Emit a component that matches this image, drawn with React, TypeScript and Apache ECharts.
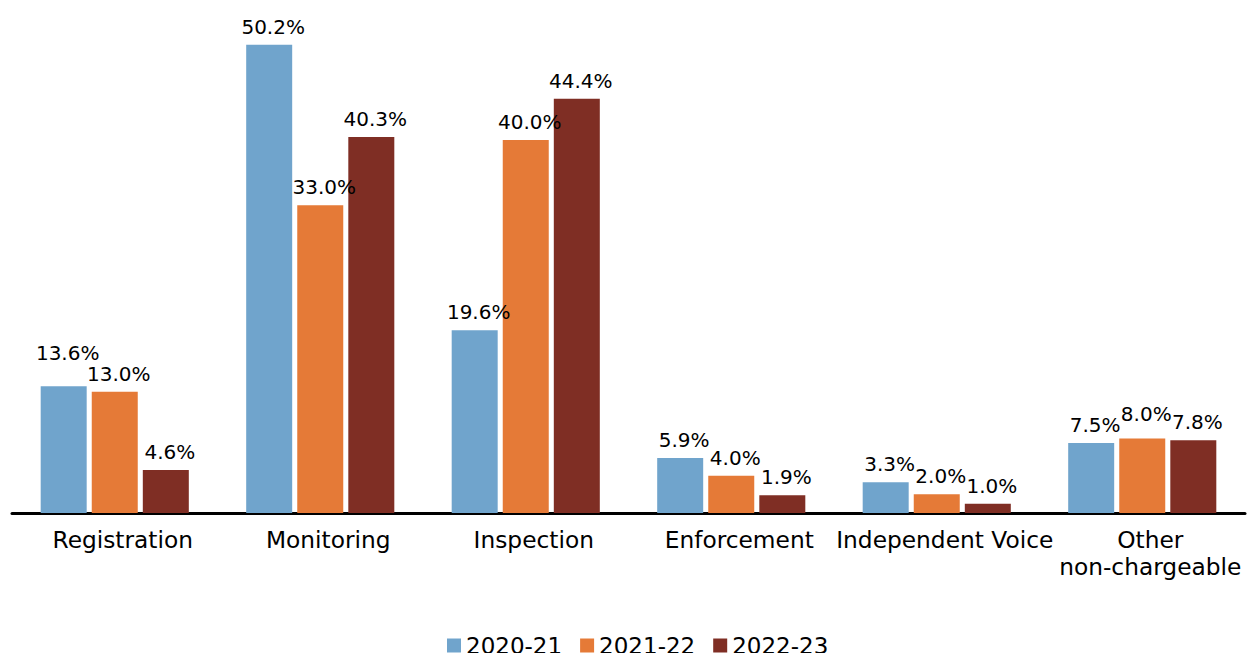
import React, { useEffect, useRef } from "react";
import * as echarts from "echarts";

const categories = ["Registration", "Monitoring", "Inspection", "Enforcement", "Independent Voice", "Other\nnon-chargeable"];
const seriesNames = ["2020-21", "2021-22", "2022-23"];
const values2020 = [13.6, 50.2, 19.6, 5.9, 3.3, 7.5];
const values2021 = [13.0, 33.0, 40.0, 4.0, 2.0, 8.0];
const values2022 = [4.6, 40.3, 44.4, 1.9, 1.0, 7.8];
const colors = ["#70a4cc", "#e57a37", "#7f2e24"];
// extra upward label shift (px) where labels were nudged to avoid overlap
const labelLift: Record<string, number> = { "0-0": 15, "1-5": 6 };

export default function App() {
  const ref = useRef<HTMLDivElement>(null);
  useEffect(() => {
    if (!ref.current) return;
    const chart = echarts.init(ref.current, undefined, { renderer: "svg" });
    const font = "'DejaVu Sans', sans-serif";
    const data = [values2020, values2021, values2022];
    chart.setOption({
      animation: false,
      textStyle: { fontFamily: font },
      grid: { left: 12, right: 2, top: 0, bottom: 140, containLabel: false },
      legend: {
        data: seriesNames,
        top: 629,
        left: 442,
        icon: "rect",
        itemWidth: 14,
        itemHeight: 14,
        itemGap: 18,
        textStyle: { fontSize: 23, lineHeight: 20, color: "#000", fontFamily: font },
      },
      xAxis: {
        type: "category",
        data: categories,
        axisLine: { show: true, lineStyle: { color: "#000", width: 3 } },
        axisTick: { show: false },
        axisLabel: {
          fontSize: 23.3,
          color: "#000",
          fontFamily: font,
          margin: 13,
          lineHeight: 27,
          padding: [0, 0, 0, 16],
          interval: 0,
        },
      },
      yAxis: {
        type: "value",
        min: 0,
        max: 55,
        show: false,
        splitLine: { show: false },
      },
      series: seriesNames.map((name, i) => ({
        name,
        type: "bar",
        data: data[i].map((v, j) => {
          const lift = labelLift[`${i}-${j}`];
          return lift ? { value: v, label: { offset: [4, -lift] } } : v;
        }),
        barWidth: 46,
        barGap: "11%",
        itemStyle: { color: colors[i] },
        label: {
          show: true,
          position: "top",
          distance: 8,
          offset: [4, 0],
          formatter: (p: any) => `${Number(p.value).toFixed(1)}%`,
          fontSize: 20,
          color: "#000",
          fontFamily: font,
        },
      })),
    });
    return () => chart.dispose();
  }, []);
  return <div ref={ref} style={{ width: 1247, height: 653, position: "absolute", left: 0, top: 0 }} />;
}
